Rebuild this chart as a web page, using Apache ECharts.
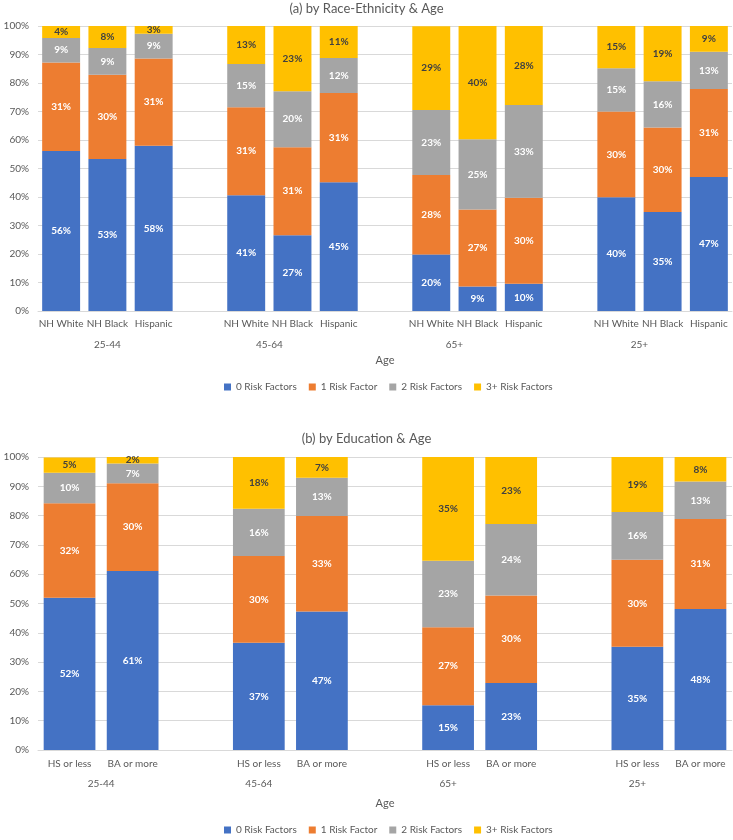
<!DOCTYPE html>
<html>
<head>
<meta charset="utf-8">
<script src="https://cdn.jsdelivr.net/npm/echarts@6/dist/echarts.min.js"></script>
<style>
  html, body { margin: 0; padding: 0; background: #fff; }
  #main { width: 733px; height: 840px; }
</style>
</head>
<body>
<div id="main"></div>
<script>
// data
var ages = ['25-44', '45-64', '65+', '25+'];
var raceCats = ['NH White', 'NH Black', 'Hispanic'];
var eduCats = ['HS or less', 'BA or more'];
var seriesNames = ['0 Risk Factors', '1 Risk Factor', '2 Risk Factors', '3+ Risk Factors'];
var colors = ['#4472C4', '#ED7D31', '#A5A5A5', '#FFC000'];

// race-ethnicity, age-major order (3 bars per age group)
var race0 = [56.1, 53.3, 58.0, 40.6, 26.6, 45.2, 19.8, 8.6, 9.6, 39.9, 34.7, 47.0];
var race1 = [31.1, 29.6, 30.6, 30.9, 30.9, 31.3, 27.9, 27.0, 30.1, 30.1, 29.7, 30.9];
var race2 = [8.6, 9.4, 8.7, 15.2, 19.6, 12.3, 22.8, 24.7, 32.6, 15.2, 16.2, 13.1];
var race3 = [4.2, 7.7, 2.7, 13.3, 22.9, 11.2, 29.4, 39.7, 27.7, 14.8, 19.4, 9.0];

// education, age-major order (2 bars per age group)
var edu0 = [52.0, 61.1, 36.6, 47.3, 15.3, 22.9, 35.2, 48.1];
var edu1 = [32.2, 29.9, 29.6, 32.6, 26.6, 29.8, 29.7, 30.7];
var edu2 = [10.4, 6.8, 16.1, 13.0, 22.7, 24.4, 16.3, 12.8];
var edu3 = [5.2, 2.2, 17.7, 7.1, 35.4, 22.9, 18.8, 8.4];

var FONT = 'Lato, "Open Sans", sans-serif';
var GREY = '#595959';

// Excel-style multi level axis: an empty slot before every group but the first
function buildCats(sub) {
  var cats = [], centers = [];
  ages.forEach(function (a, i) {
    var start = cats.length;
    if (i > 0) cats.push('');
    sub.forEach(function (s) { cats.push(s); });
    centers.push((start + cats.length - 1) / 2);
  });
  return { cats: cats, centers: centers };
}
function spread(vals, n) {
  var out = [];
  vals.forEach(function (v, k) {
    if (k > 0 && k % n === 0) out.push('-');
    out.push(v);
  });
  return out;
}

var race = buildCats(raceCats);
var edu = buildCats(eduCats);

function xAxes(gi, info, subMargin, grpMargin, nameGap) {
  return [{
    type: 'category', gridIndex: gi, data: info.cats,
    axisLine: { lineStyle: { color: '#d9d9d9' } },
    axisTick: { show: false },
    axisLabel: { color: GREY, fontSize: 10, fontFamily: FONT, margin: subMargin, interval: 0 }
  }, {
    type: 'value', gridIndex: gi, position: 'bottom',
    min: -0.5, max: info.cats.length - 0.5,
    axisLine: { show: false }, axisTick: { show: false }, splitLine: { show: false },
    axisLabel: {
      color: GREY, fontSize: 10, fontFamily: FONT, margin: grpMargin,
      customValues: info.centers,
      formatter: function (v) {
        var k = info.centers.indexOf(v);
        return k >= 0 ? ages[k] : '';
      }
    },
    name: 'Age', nameLocation: 'middle', nameGap: nameGap,
    nameTextStyle: { color: GREY, fontSize: 11, fontFamily: FONT }
  }];
}
function yAxis(gi) {
  return {
    type: 'value', gridIndex: gi, min: 0, max: 100, interval: 10,
    axisLabel: { color: GREY, fontSize: 10, fontFamily: FONT, margin: 9, formatter: '{value}%' },
    axisLine: { show: false }, axisTick: { show: false },
    splitLine: { lineStyle: { color: '#d9d9d9' } }
  };
}
function makeSeries(gi, sets, n) {
  return sets.map(function (vals, i) {
    return {
      name: seriesNames[i], type: 'bar', stack: 's' + gi,
      xAxisIndex: gi * 2, yAxisIndex: gi,
      barCategoryGap: '18%',
      itemStyle: { color: colors[i] },
      label: {
        show: true, position: 'inside',
        color: i === 3 ? '#404040' : '#ffffff',
        fontSize: 10, fontWeight: 'bold', fontFamily: FONT,
        formatter: function (p) { return Math.round(p.value) + '%'; }
      },
      data: spread(vals, n)
    };
  });
}
function legend(top) {
  return {
    data: seriesNames, top: top, left: 219,
    itemWidth: 7, itemHeight: 7, itemGap: 12, icon: 'rect',
    textStyle: { color: GREY, fontSize: 10, fontFamily: FONT }
  };
}

var chart = echarts.init(document.getElementById('main'));
chart.setOption({
  animation: false,
  color: colors,
  title: [
    { text: '(a) by Race-Ethnicity & Age', left: 'center', top: -3,
      textStyle: { color: GREY, fontSize: 13, fontWeight: 'normal', fontFamily: FONT } },
    { text: '(b) by Education & Age', left: 'center', top: 427,
      textStyle: { color: GREY, fontSize: 13, fontWeight: 'normal', fontFamily: FONT } }
  ],
  legend: [legend(377), legend(820)],
  grid: [
    { left: 38, right: 1, top: 26, height: 285 },
    { left: 38, right: 1, top: 457, height: 293 }
  ],
  xAxis: xAxes(0, race, 8, 29, 44).concat(xAxes(1, edu, 9, 29, 48)),
  yAxis: [yAxis(0), yAxis(1)],
  series: makeSeries(0, [race0, race1, race2, race3], raceCats.length)
    .concat(makeSeries(1, [edu0, edu1, edu2, edu3], eduCats.length))
});
</script>
</body>
</html>
